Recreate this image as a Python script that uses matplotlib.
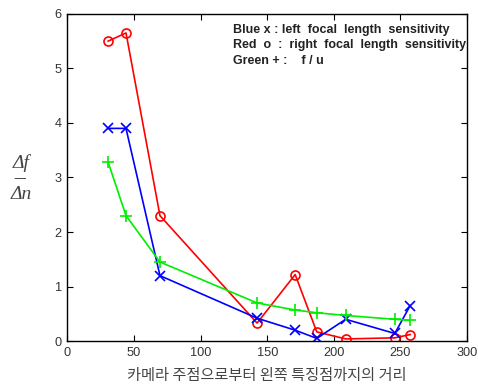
import matplotlib
matplotlib.use("Agg")
from matplotlib import pyplot as plt

# 카메라 주점으로부터의 거리
x = [30.6, 44, 69.5, 142.4, 171, 187.2, 208.9, 245.8, 257.3]
# 왼쪽 초점거리 민감도 (파랑 x)
blue = [3.9, 3.9, 1.2, 0.42, 0.2, 0.05, 0.4, 0.14, 0.65]
# 오른쪽 초점거리 민감도 (빨강 o)
red = [5.5, 5.65, 2.3, 0.33, 1.22, 0.17, 0.04, 0.06, 0.12]
# f / u (초록 +)
green = [3.28, 2.3, 1.45, 0.7, 0.57, 0.52, 0.47, 0.4, 0.38]

xticks = [0, 50, 100, 150, 200, 250, 300]
yticks = [0, 1, 2, 3, 4, 5, 6]

fig = plt.figure(figsize=(4.78, 3.85), dpi=100)
ax = fig.add_axes([0.141, 0.114, 0.836, 0.85])

ax.plot(x, red, color="red", marker="o", markersize=6.5, markerfacecolor="none",
        markeredgewidth=1.2, linewidth=1.2)
ax.plot(x, blue, color="blue", marker="x", markersize=6.5, markeredgewidth=1.2,
        linewidth=1.2)
ax.plot(x, green, color="#00ee00", marker="+", markersize=9, markeredgewidth=1.2,
        linewidth=1.2)

ax.set_xlim(0, 300)
ax.set_ylim(0, 6)
ax.set_xticks(xticks)
ax.set_yticks(yticks)
ax.tick_params(direction="in", top=True, right=True, length=4, labelsize=9.2,
               labelcolor="#333333", pad=4)
for lab in ax.get_xticklabels() + ax.get_yticklabels():
    lab.set_family("Liberation Sans")
for s in ax.spines.values():
    s.set_linewidth(1.0)

ax.set_xlabel("카메라 주점으로부터 왼쪽 특징점까지의 거리",
              family=["Noto Sans CJK KR", "DejaVu Sans"], fontsize=11, color="#444444",
              labelpad=6)

# y축 라벨: Δf / Δn
fig.text(0.044, 0.577, "\u0394f", fontsize=14, family="Liberation Serif", style="italic",
         ha="center", va="center", color="#444444")
fig.text(0.042, 0.537, "\u2014", fontsize=9, ha="center", va="center", color="#444444")
fig.text(0.044, 0.495, "\u0394n", fontsize=14, family="Liberation Serif", style="italic",
         ha="center", va="center", color="#444444")

ax.text(0.415, 0.951, "Blue x : left  focal  length  sensitivity", transform=ax.transAxes,
        fontsize=9, weight="bold", family="Liberation Sans", color="#222222", va="center")
ax.text(0.415, 0.905, "Red  o  :  right  focal  length  sensitivity", transform=ax.transAxes,
        fontsize=9, weight="bold", family="Liberation Sans", color="#222222", va="center")
ax.text(0.415, 0.856, "Green + :    f / u", transform=ax.transAxes,
        fontsize=9, weight="bold", family="Liberation Sans", color="#222222", va="center")

fig.savefig("out.png", dpi=100)
